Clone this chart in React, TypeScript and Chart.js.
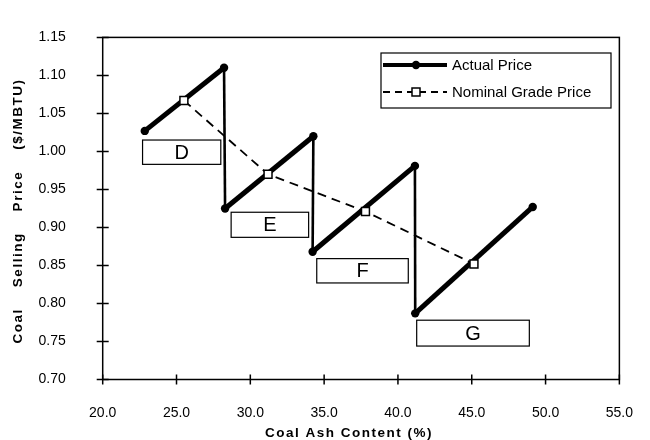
import React, { useEffect, useRef } from "react";
import { Chart, registerables } from "chart.js";

Chart.register(...registerables);

// ---- data ----
const actualX = [22.85, 28.22, 28.29, 34.27, 34.22, 41.15, 41.17, 49.13];
const actualY = [1.027, 1.11, 0.925, 1.02, 0.868, 0.981, 0.787, 0.927];
const nominalX = [25.5, 31.2, 37.8, 45.15];
const nominalY = [1.067, 0.97, 0.921, 0.852];

const gradeLabels = ["D", "E", "F", "G"];
const gradeBoxX0 = [22.7, 28.7, 34.5, 41.27];
const gradeBoxX1 = [28.0, 33.95, 40.7, 48.9];
const gradeBoxYTop = [1.015, 0.92, 0.859, 0.778];
const gradeBoxYBottom = [0.983, 0.887, 0.827, 0.744];

const xTicks = [20, 25, 30, 35, 40, 45, 50, 55];
const yTicks = [0.7, 0.75, 0.8, 0.85, 0.9, 0.95, 1.0, 1.05, 1.1, 1.15];

const seriesLabels = ["Actual Price", "Nominal Grade Price"];
const xTitle = "Coal Ash Content (%)";
const yTitle = "Coal    Selling    Price    ($/MBTU)";

const FONT = "'Liberation Sans', Arial, Helvetica, sans-serif";

const framePlugin = {
  id: "frameTicks",
  beforeDatasetsDraw(chart: any) {
    const { ctx, chartArea, scales } = chart;
    const { left, right, top, bottom } = chartArea;
    ctx.save();
    ctx.strokeStyle = "#000";
    ctx.lineWidth = 1.5;
    ctx.strokeRect(left, top, right - left, bottom - top);
    ctx.beginPath();
    xTicks.forEach((v) => {
      const px = scales.x.getPixelForValue(v);
      ctx.moveTo(px, bottom - 5);
      ctx.lineTo(px, bottom + 5);
    });
    yTicks.forEach((v) => {
      const py = scales.y.getPixelForValue(v);
      ctx.moveTo(left - 6, py);
      ctx.lineTo(left + 6, py);
    });
    ctx.stroke();
    ctx.restore();
  },
};

const gradePlugin = {
  id: "gradeBoxes",
  afterDatasetsDraw(chart: any) {
    const { ctx, scales } = chart;
    ctx.save();
    gradeLabels.forEach((lab, i) => {
      const x0 = scales.x.getPixelForValue(gradeBoxX0[i]);
      const x1 = scales.x.getPixelForValue(gradeBoxX1[i]);
      const y0 = scales.y.getPixelForValue(gradeBoxYTop[i]);
      const y1 = scales.y.getPixelForValue(gradeBoxYBottom[i]);
      ctx.fillStyle = "#fff";
      ctx.fillRect(x0, y0, x1 - x0, y1 - y0);
      ctx.strokeStyle = "#000";
      ctx.lineWidth = 1.2;
      ctx.strokeRect(x0, y0, x1 - x0, y1 - y0);
      ctx.fillStyle = "#000";
      ctx.font = `20px ${FONT}`;
      ctx.textAlign = "center";
      ctx.textBaseline = "middle";
      ctx.fillText(lab, (x0 + x1) / 2, (y0 + y1) / 2 + 1);
    });
    ctx.restore();
  },
};

const legendPlugin = {
  id: "customLegend",
  afterDraw(chart: any) {
    const { ctx } = chart;
    const bx = 381, by = 53, bw = 230, bh = 55;
    ctx.save();
    ctx.fillStyle = "#fff";
    ctx.fillRect(bx, by, bw, bh);
    ctx.strokeStyle = "#000";
    ctx.lineWidth = 1.2;
    ctx.strokeRect(bx, by, bw, bh);
    // actual
    const y1 = 65;
    ctx.lineWidth = 4;
    ctx.beginPath();
    ctx.moveTo(383, y1);
    ctx.lineTo(447, y1);
    ctx.stroke();
    ctx.fillStyle = "#000";
    ctx.beginPath();
    ctx.arc(416, y1, 4.2, 0, Math.PI * 2);
    ctx.fill();
    // nominal
    const y2 = 92;
    ctx.lineWidth = 1.8;
    ctx.setLineDash([7, 5]);
    ctx.beginPath();
    ctx.moveTo(383, y2);
    ctx.lineTo(447, y2);
    ctx.stroke();
    ctx.setLineDash([]);
    ctx.fillStyle = "#fff";
    ctx.lineWidth = 1.5;
    ctx.fillRect(412, y2 - 4, 8, 8);
    ctx.strokeRect(412, y2 - 4, 8, 8);
    ctx.fillStyle = "#000";
    ctx.font = `15px ${FONT}`;
    ctx.textAlign = "left";
    ctx.textBaseline = "middle";
    ctx.fillText(seriesLabels[0], 452, y1 + 1);
    ctx.fillText(seriesLabels[1], 452, y2 + 1);
    ctx.restore();
  },
};

const titlePlugin = {
  id: "axisTitles",
  afterDraw(chart: any) {
    const { ctx } = chart;
    ctx.save();
    ctx.fillStyle = "#000";
    ctx.font = `bold 13.5px ${FONT}`;
    (ctx as any).letterSpacing = "1.5px";
    ctx.textAlign = "center";
    ctx.textBaseline = "middle";
    ctx.fillText(xTitle, 349, 433);
    ctx.translate(18, 211);
    ctx.rotate(-Math.PI / 2);
    ctx.fillText(yTitle, 0, 0);
    ctx.restore();
  },
};

export default function App() {
  const ref = useRef<HTMLCanvasElement | null>(null);

  useEffect(() => {
    document.body.style.margin = "0";
    const canvas = ref.current;
    if (!canvas) return;
    const chart = new Chart(canvas, {
      type: "line",
      data: {
        datasets: [
          {
            label: seriesLabels[0],
            data: actualX.map((x, i) => ({ x, y: actualY[i] })),
            borderColor: "#000",
            backgroundColor: "#000",
            borderWidth: 5,
            pointRadius: 4.2,
            pointBackgroundColor: "#000",
            pointBorderWidth: 0,
            tension: 0,
            order: 2,
            segment: {
              borderWidth: (c: any) => (c.p1.parsed.y < c.p0.parsed.y ? 2.6 : 5),
            },
          } as any,
          {
            label: seriesLabels[1],
            data: nominalX.map((x, i) => ({ x, y: nominalY[i] })),
            borderColor: "#000",
            backgroundColor: "#fff",
            borderWidth: 1.8,
            borderDash: [9, 6],
            pointStyle: "rect",
            pointRadius: 5.6,
            pointBackgroundColor: "#fff",
            pointBorderColor: "#000",
            pointBorderWidth: 1.5,
            tension: 0,
            order: 1,
          } as any,
        ],
      },
      options: {
        animation: false,
        responsive: false,
        devicePixelRatio: 1,
        layout: { padding: { top: 18.5, right: 26.7, left: 0, bottom: 0 } },
        plugins: {
          legend: { display: false },
          tooltip: { enabled: false },
        },
        scales: {
          x: {
            type: "linear",
            min: 20,
            max: 55,
            grid: { display: false },
            border: { display: false },
            afterBuildTicks: (s: any) => {
              s.ticks = xTicks.map((v) => ({ value: v }));
            },
            afterFit: (s: any) => {
              s.height = 60.5;
            },
            ticks: {
              color: "#000",
              font: { family: FONT, size: 14 },
              padding: 17,
              maxRotation: 0,
              autoSkip: false,
              callback: (v: any) => Number(v).toFixed(1),
            },
          },
          y: {
            type: "linear",
            min: 0.7,
            max: 1.15,
            grid: { display: false },
            border: { display: false },
            afterBuildTicks: (s: any) => {
              s.ticks = yTicks.map((v) => ({ value: v }));
            },
            afterFit: (s: any) => {
              s.width = 102.7;
            },
            ticks: {
              color: "#000",
              font: { family: FONT, size: 14 },
              padding: 29,
              autoSkip: false,
              callback: (v: any) => Number(v).toFixed(2),
            },
          },
        },
      },
      plugins: [framePlugin, gradePlugin, legendPlugin, titlePlugin],
    } as any);
    return () => chart.destroy();
  }, []);

  return (
    <div style={{ width: 650, height: 440 }}>
      <canvas ref={ref} width={650} height={440} style={{ display: "block" }} />
    </div>
  );
}
